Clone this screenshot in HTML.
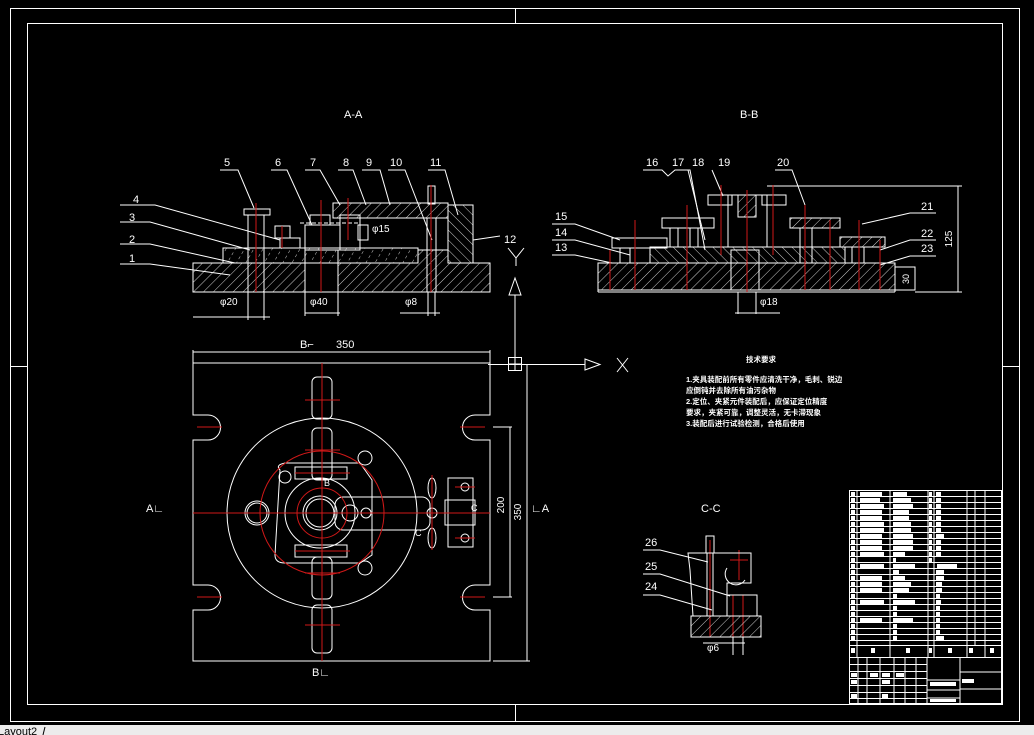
<!DOCTYPE html>
<html><head><meta charset="utf-8"><style>
html,body{margin:0;padding:0;background:#000;width:1034px;height:735px;overflow:hidden}
svg{display:block}
text{font-family:"Liberation Sans","Noto Sans CJK SC",sans-serif;fill:#fff}
</style></head><body>
<svg width="1034" height="735" viewBox="0 0 1034 735" xmlns="http://www.w3.org/2000/svg">
<defs>
<pattern id="h" width="7" height="7" patternUnits="userSpaceOnUse" patternTransform="rotate(45)"><line x1="0" y1="0" x2="0" y2="7" stroke="#fff" stroke-width="0.8"/></pattern>
<pattern id="h2" width="7" height="7" patternUnits="userSpaceOnUse" patternTransform="rotate(-45)"><line x1="0" y1="0" x2="0" y2="7" stroke="#fff" stroke-width="0.8"/></pattern>
<pattern id="d" width="8" height="6" patternUnits="userSpaceOnUse" patternTransform="rotate(30)"><line x1="0" y1="0" x2="0" y2="3" stroke="#fff" stroke-width="0.8"/></pattern>
</defs>
<rect width="1034" height="735" fill="#000"/>
<g fill="none" stroke="#fff" stroke-width="1">
<rect x="10.5" y="8.5" width="1009" height="713"/>
<rect x="27.5" y="23.5" width="975" height="681"/>
<line x1="515.5" y1="8" x2="515.5" y2="23"/><line x1="515.5" y1="704" x2="515.5" y2="721"/>
<line x1="10" y1="366.5" x2="27" y2="366.5"/><line x1="1002" y1="366.5" x2="1019" y2="366.5"/>

<path d="M193 263 H305 V292 H193 Z" fill="url(#h)"/>
<path d="M338 263 H418 V250 H448 V263 H490 V292 H338 Z" fill="url(#h)"/>
<rect x="305" y="250" width="33" height="42"/>
<rect x="223" y="248" width="195" height="15" fill="url(#d)"/>
<rect x="333" y="203" width="115" height="15" fill="url(#h)"/>
<rect x="448" y="205" width="25" height="58" fill="url(#h2)"/>
<rect x="244" y="209" width="26" height="6"/><rect x="248" y="215" width="16" height="77"/>
<rect x="427" y="218" width="9" height="74"/><rect x="428" y="186" width="7" height="18"/>
<rect x="275" y="226" width="15" height="12"/><rect x="280" y="238" width="20" height="10"/>
<rect x="305" y="225" width="35" height="25"/><rect x="310" y="215" width="20" height="10"/>
<rect x="340" y="215" width="20" height="35"/><rect x="358" y="225" width="10" height="15"/>
<line x1="300" y1="223" x2="360" y2="223" stroke-dasharray="4,2"/>
<line x1="193" y1="317" x2="270" y2="317"/><line x1="305" y1="313" x2="340" y2="313"/><line x1="400" y1="313" x2="440" y2="313"/>
<line x1="248" y1="292" x2="248" y2="320"/><line x1="264" y1="292" x2="264" y2="320"/>
<line x1="305" y1="292" x2="305" y2="316"/><line x1="338" y1="292" x2="338" y2="316"/>
<line x1="428" y1="292" x2="428" y2="316"/><line x1="435" y1="292" x2="435" y2="316"/>
<polyline points="220,170 238,170 254,208"/><polyline points="271,170 287,170 312,225"/>
<polyline points="305,170 320,170 340,205"/><polyline points="338,170 353,170 366,205"/>
<polyline points="362,170 380,170 390,205"/><polyline points="388,170 405,170 432,240"/>
<polyline points="428,170 445,170 458,215"/><polyline points="473,240 500,236"/>
<polyline points="120,205 155,205 280,240"/><polyline points="120,222 150,222 250,250"/>
<polyline points="120,244 150,244 235,263"/><polyline points="120,264 150,264 230,275"/>

<rect x="598" y="263" width="297" height="27" fill="url(#h)"/>
<line x1="598" y1="292" x2="895" y2="292"/><line x1="598" y1="290" x2="598" y2="292"/><line x1="895" y1="290" x2="895" y2="292"/>
<rect x="650" y="247" width="195" height="16" fill="url(#h2)"/>
<rect x="731" y="250" width="28" height="40"/>
<rect x="728" y="195" width="39" height="52"/><rect x="738" y="195" width="18" height="22" fill="url(#h)"/>
<rect x="708" y="195" width="24" height="10"/><rect x="762" y="195" width="24" height="10"/>
<rect x="612" y="238" width="55" height="10"/><rect x="662" y="218" width="52" height="10"/>
<rect x="790" y="218" width="50" height="10" fill="url(#h)"/><rect x="840" y="237" width="45" height="10" fill="url(#h)"/>
<rect x="620" y="248" width="10" height="15"/><rect x="670" y="228" width="8" height="19"/><rect x="690" y="228" width="8" height="19"/>
<rect x="800" y="228" width="12" height="35"/><rect x="852" y="247" width="12" height="16"/>
<rect x="895" y="267" width="20" height="23"/>
<line x1="767" y1="186" x2="962" y2="186"/><line x1="915" y1="292" x2="962" y2="292"/>
<line x1="958" y1="186" x2="958" y2="292"/>
<line x1="738" y1="292" x2="738" y2="314"/><line x1="756" y1="292" x2="756" y2="314"/><line x1="735" y1="313" x2="780" y2="313"/>
<polyline points="643,170 662,170 668,176 675,170 690,170 705,250"/>
<polyline points="688,170 705,240"/><polyline points="712,170 723,196"/>
<polyline points="775,170 792,170 805,205"/>
<polyline points="936,213 910,213 862,224"/><polyline points="936,240 910,240 880,250"/><polyline points="936,256 910,256 880,265"/>
<polyline points="552,224 575,224 620,240"/><polyline points="552,240 575,240 630,255"/><polyline points="552,255 575,255 612,263"/>

<line x1="515" y1="295" x2="515" y2="370"/>
<path d="M509 295 L515 278 L521 295 Z"/>
<rect x="508.5" y="357.5" width="13" height="13"/><line x1="515" y1="357" x2="515" y2="371"/><line x1="508" y1="364" x2="522" y2="364"/>
<line x1="488" y1="364.5" x2="585" y2="364.5"/>
<path d="M585 359 L600 364.5 L585 370 Z"/>
<path d="M508 248 L516 258 L524 248 M516 258 V266"/>
<path d="M617 358 L628 372 M628 358 L617 372"/>

<path d="M193 363 H490 V415 H475 A12 12 0 0 0 475 440 H490 V585 H475 A12 12 0 0 0 475 610 H490 V661 H193 V610 H208 A12 12 0 0 0 208 585 H193 V440 H208 A12 12 0 0 0 208 415 H193 Z"/>
<line x1="193" y1="352" x2="490" y2="352"/><line x1="193" y1="350" x2="193" y2="363"/><line x1="490" y1="350" x2="490" y2="363"/>
<line x1="493" y1="427" x2="512" y2="427"/><line x1="493" y1="597" x2="512" y2="597"/><line x1="510" y1="427" x2="510" y2="597"/>
<line x1="493" y1="661" x2="530" y2="661"/><line x1="527" y1="365" x2="527" y2="661"/>
<circle cx="322" cy="513" r="95"/>
<rect x="312" y="377" width="20" height="42" rx="5"/><rect x="312" y="428" width="20" height="52" rx="5"/>
<rect x="312" y="557" width="20" height="42" rx="5"/><rect x="312" y="605" width="20" height="48" rx="5"/>
<path d="M280 470 Q275 465 285 463 H360 L372 480 V555 L360 563 H285 Q275 563 275 555 Z"/>
<rect x="295" y="467" width="52" height="12"/><rect x="295" y="545" width="52" height="12"/>
<circle cx="320" cy="513" r="14"/><circle cx="320" cy="513" r="17"/>
<circle cx="320" cy="513" r="35"/>
<rect x="335" y="497" width="95" height="33" rx="8"/>
<circle cx="350" cy="513" r="8"/><circle cx="366" cy="513" r="5"/>
<circle cx="257" cy="513" r="12"/><circle cx="257" cy="513" r="10"/>
<circle cx="285" cy="477" r="6"/><circle cx="365" cy="458" r="7"/><circle cx="365" cy="568" r="7"/>
<rect x="448" y="478" width="25" height="69"/><rect x="445" y="500" width="30" height="25"/>
<ellipse cx="432" cy="488" rx="4" ry="10"/><ellipse cx="432" cy="538" rx="4" ry="10"/><circle cx="432" cy="513" r="5"/>
<circle cx="465" cy="487" r="4"/><circle cx="465" cy="538" r="4"/>
</g>
<g fill="none" stroke="#d01818" stroke-width="1">
<line x1="256" y1="203" x2="256" y2="292"/><line x1="321" y1="200" x2="321" y2="292"/><line x1="431" y1="185" x2="431" y2="292"/>
<line x1="348" y1="198" x2="348" y2="240"/><line x1="282" y1="226" x2="282" y2="248"/>
<line x1="747" y1="190" x2="747" y2="292"/><line x1="721" y1="185" x2="721" y2="255"/><line x1="773" y1="185" x2="773" y2="255"/>
<line x1="635" y1="220" x2="635" y2="290"/><line x1="610" y1="250" x2="610" y2="290"/>
<line x1="687" y1="205" x2="687" y2="290"/><line x1="805" y1="205" x2="805" y2="290"/><line x1="830" y1="220" x2="830" y2="290"/>
<line x1="859" y1="220" x2="859" y2="290"/><line x1="880" y1="240" x2="880" y2="290"/>
<line x1="322" y1="363" x2="322" y2="661"/><line x1="193" y1="513" x2="490" y2="513"/>
<circle cx="322" cy="513" r="62"/><circle cx="322" cy="513" r="25"/>
<line x1="197" y1="427" x2="222" y2="427"/><line x1="197" y1="597" x2="222" y2="597"/>
<line x1="460" y1="427" x2="485" y2="427"/><line x1="460" y1="597" x2="485" y2="597"/>
<line x1="305" y1="400" x2="340" y2="400"/><line x1="305" y1="450" x2="340" y2="450"/><line x1="305" y1="573" x2="340" y2="573"/><line x1="305" y1="625" x2="340" y2="625"/>
<line x1="295" y1="473" x2="350" y2="473"/><line x1="295" y1="551" x2="350" y2="551"/>
<line x1="432" y1="475" x2="432" y2="550"/><line x1="455" y1="487" x2="475" y2="487"/><line x1="455" y1="538" x2="475" y2="538"/>
<line x1="710" y1="540" x2="710" y2="637"/><line x1="739" y1="550" x2="739" y2="580"/><line x1="730" y1="560" x2="748" y2="560"/>
<line x1="733" y1="595" x2="733" y2="637"/><line x1="743" y1="595" x2="743" y2="637"/>
</g>
<g fill="none" stroke="#fff" stroke-width="1">
<rect x="691" y="616" width="70" height="21" fill="url(#h)"/>
<path d="M688 553 H751 V583 H727 V616 H693 L690 570 Z"/>
<path d="M727 568 A10 10 0 0 0 745 580"/>
<rect x="727" y="595" width="30" height="21"/>
<rect x="706" y="536" width="8" height="17"/><rect x="707" y="553" width="6" height="63"/>
<line x1="703" y1="643" x2="745" y2="643"/><line x1="733" y1="637" x2="733" y2="655"/><line x1="743" y1="637" x2="743" y2="655"/>
<polyline points="643,550 660,550 708,562"/><polyline points="643,574 660,574 730,596"/><polyline points="643,595 660,595 712,610"/>
</g>
<g fill="none" stroke="#fff" stroke-width="1">
<rect x="849.5" y="490.5" width="152" height="213"/>
<line x1="857" y1="490" x2="857" y2="657"/><line x1="890" y1="490" x2="890" y2="657"/><line x1="928" y1="490" x2="928" y2="657"/>
<line x1="934" y1="490" x2="934" y2="657"/><line x1="967" y1="490" x2="967" y2="657"/><line x1="975" y1="490" x2="975" y2="645"/><line x1="985" y1="490" x2="985" y2="657"/>
<line x1="849" y1="645.5" x2="1002" y2="645.5"/><line x1="849" y1="657.5" x2="1002" y2="657.5"/>
<line x1="927" y1="657" x2="927" y2="704"/><line x1="960" y1="657" x2="960" y2="704"/>
<line x1="960" y1="672" x2="1002" y2="672"/><line x1="960" y1="689" x2="1002" y2="689"/>
<line x1="927" y1="680" x2="960" y2="680"/><line x1="927" y1="690" x2="960" y2="690"/><line x1="927" y1="698" x2="960" y2="698"/>
</g>
<g stroke="#fff" stroke-width="1">
<path d="M849 496.5H1002M849 502.5H1002M849 508.5H1002M849 514.5H1002M849 520.5H1002M849 526.5H1002M849 532.5H1002M849 538.5H1002M849 544.5H1002M849 550.5H1002M849 556.5H1002M849 562.5H1002M849 568.5H1002M849 574.5H1002M849 580.5H1002M849 586.5H1002M849 592.5H1002M849 598.5H1002M849 604.5H1002M849 610.5H1002M849 616.5H1002M849 622.5H1002M849 628.5H1002M849 634.5H1002M849 640.5H1002"/>
<path d="M849 664.5H927M849 671.5H927M849 678.5H927M849 685.5H927M849 692.5H927M849 698.5H927M858 657V704M867 657V704M880 657V704M894 657V704M905 657V704M916 657V704"/>
</g>
<g fill="#fff">
<rect x="851" y="492" width="4" height="4"/><rect x="860" y="492" width="22" height="4"/><rect x="893" y="492" width="14" height="4"/><rect x="929" y="492" width="3" height="4"/><rect x="936" y="492" width="5" height="4"/>
<rect x="851" y="498" width="4" height="4"/><rect x="860" y="498" width="20" height="4"/><rect x="893" y="498" width="18" height="4"/><rect x="929" y="498" width="3" height="4"/><rect x="936" y="498" width="5" height="4"/>
<rect x="851" y="504" width="4" height="4"/><rect x="860" y="504" width="24" height="4"/><rect x="893" y="504" width="20" height="4"/><rect x="929" y="504" width="3" height="4"/><rect x="936" y="504" width="5" height="4"/>
<rect x="851" y="510" width="4" height="4"/><rect x="860" y="510" width="22" height="4"/><rect x="893" y="510" width="16" height="4"/><rect x="929" y="510" width="3" height="4"/><rect x="936" y="510" width="5" height="4"/>
<rect x="851" y="516" width="4" height="4"/><rect x="860" y="516" width="22" height="4"/><rect x="893" y="516" width="16" height="4"/><rect x="929" y="516" width="3" height="4"/><rect x="936" y="516" width="5" height="4"/>
<rect x="851" y="522" width="4" height="4"/><rect x="860" y="522" width="24" height="4"/><rect x="893" y="522" width="18" height="4"/><rect x="929" y="522" width="3" height="4"/><rect x="936" y="522" width="5" height="4"/>
<rect x="851" y="528" width="4" height="4"/><rect x="860" y="528" width="24" height="4"/><rect x="893" y="528" width="18" height="4"/><rect x="929" y="528" width="3" height="4"/><rect x="936" y="528" width="5" height="4"/>
<rect x="851" y="534" width="4" height="4"/><rect x="860" y="534" width="22" height="4"/><rect x="893" y="534" width="20" height="4"/><rect x="929" y="534" width="3" height="4"/><rect x="936" y="534" width="8" height="4"/>
<rect x="851" y="540" width="4" height="4"/><rect x="860" y="540" width="22" height="4"/><rect x="893" y="540" width="20" height="4"/><rect x="929" y="540" width="3" height="4"/><rect x="936" y="540" width="5" height="4"/>
<rect x="851" y="546" width="4" height="4"/><rect x="860" y="546" width="22" height="4"/><rect x="893" y="546" width="20" height="4"/><rect x="929" y="546" width="3" height="4"/><rect x="936" y="546" width="5" height="4"/>
<rect x="851" y="552" width="4" height="4"/><rect x="860" y="552" width="24" height="4"/><rect x="893" y="552" width="12" height="4"/><rect x="929" y="552" width="3" height="4"/><rect x="936" y="552" width="5" height="4"/>
<rect x="851" y="558" width="4" height="4"/><rect x="893" y="558" width="3" height="4"/><rect x="929" y="558" width="3" height="4"/>
<rect x="851" y="564" width="4" height="4"/><rect x="860" y="564" width="24" height="4"/><rect x="893" y="564" width="22" height="4"/><rect x="937" y="564" width="20" height="4"/>
<rect x="851" y="570" width="4" height="4"/><rect x="893" y="570" width="6" height="4"/><rect x="936" y="570" width="8" height="4"/>
<rect x="851" y="576" width="4" height="4"/><rect x="860" y="576" width="22" height="4"/><rect x="893" y="576" width="12" height="4"/><rect x="936" y="576" width="8" height="4"/>
<rect x="851" y="582" width="4" height="4"/><rect x="860" y="582" width="22" height="4"/><rect x="893" y="582" width="18" height="4"/><rect x="936" y="582" width="6" height="4"/>
<rect x="851" y="588" width="4" height="4"/><rect x="860" y="588" width="22" height="4"/><rect x="893" y="588" width="16" height="4"/><rect x="936" y="588" width="6" height="4"/>
<rect x="851" y="594" width="4" height="4"/><rect x="893" y="594" width="4" height="4"/><rect x="936" y="594" width="4" height="4"/>
<rect x="851" y="600" width="4" height="4"/><rect x="860" y="600" width="24" height="4"/><rect x="893" y="600" width="22" height="4"/><rect x="936" y="600" width="5" height="4"/>
<rect x="851" y="606" width="4" height="4"/><rect x="893" y="606" width="4" height="4"/><rect x="936" y="606" width="4" height="4"/>
<rect x="851" y="612" width="4" height="4"/><rect x="893" y="612" width="4" height="4"/><rect x="936" y="612" width="4" height="4"/>
<rect x="851" y="618" width="4" height="4"/><rect x="860" y="618" width="22" height="4"/><rect x="893" y="618" width="20" height="4"/><rect x="936" y="618" width="4" height="4"/>
<rect x="851" y="624" width="4" height="4"/><rect x="893" y="624" width="4" height="4"/><rect x="936" y="624" width="4" height="4"/>
<rect x="851" y="630" width="4" height="4"/><rect x="893" y="630" width="4" height="4"/><rect x="936" y="630" width="4" height="4"/>
<rect x="851" y="636" width="4" height="4"/><rect x="893" y="636" width="4" height="4"/><rect x="936" y="636" width="8" height="4"/>
<rect x="851" y="648" width="4" height="5"/><rect x="871" y="648" width="4" height="5"/><rect x="906" y="648" width="4" height="5"/><rect x="929" y="648" width="3" height="5"/><rect x="948" y="648" width="4" height="5"/><rect x="969" y="648" width="4" height="5"/><rect x="990" y="648" width="4" height="5"/>
<rect x="930" y="682" width="26" height="4"/><rect x="962" y="679" width="12" height="4"/><rect x="930" y="699" width="26" height="3"/>
<rect x="851" y="673" width="6" height="4"/><rect x="870" y="673" width="8" height="4"/><rect x="882" y="673" width="8" height="4"/><rect x="896" y="673" width="8" height="4"/>
<rect x="851" y="680" width="6" height="4"/><rect x="882" y="680" width="8" height="4"/><rect x="851" y="694" width="6" height="4"/><rect x="882" y="694" width="6" height="4"/>
</g>
<g font-size="11">
<text x="344" y="118">A-A</text><text x="740" y="118">B-B</text><text x="701" y="512">C-C</text>
<text x="224" y="166">5</text><text x="275" y="166">6</text><text x="310" y="166">7</text><text x="343" y="166">8</text><text x="366" y="166">9</text><text x="390" y="166">10</text><text x="430" y="166">11</text>
<text x="504" y="243">12</text>
<text x="133" y="203">4</text><text x="129" y="221">3</text><text x="129" y="243">2</text><text x="129" y="262">1</text>
<text x="646" y="166">16</text><text x="672" y="166">17</text><text x="692" y="166">18</text><text x="718" y="166">19</text><text x="777" y="166">20</text>
<text x="921" y="210">21</text><text x="921" y="237">22</text><text x="921" y="252">23</text>
<text x="555" y="220">15</text><text x="555" y="236">14</text><text x="555" y="251">13</text>
<text x="645" y="546">26</text><text x="645" y="570">25</text><text x="645" y="590">24</text>
<text x="300" y="348">B⌐</text><text x="336" y="348">350</text>
<text x="312" y="676">B∟</text><text x="146" y="512">A∟</text><text x="531" y="512">∟A</text>
<text x="471" y="511" font-size="9">C</text><text x="415" y="536" font-size="9">C</text><text x="324" y="486" font-size="9">B</text>
<text x="220" y="305" font-size="10">φ20</text><text x="310" y="305" font-size="10">φ40</text><text x="405" y="305" font-size="10">φ8</text>
<text x="372" y="232" font-size="10">φ15</text><text x="760" y="305" font-size="10">φ18</text><text x="707" y="651" font-size="10">φ6</text>
<text transform="translate(504,505) rotate(-90)" font-size="10" text-anchor="middle">200</text>
<text transform="translate(521,512) rotate(-90)" font-size="10" text-anchor="middle">350</text>
<text transform="translate(952,239) rotate(-90)" font-size="10" text-anchor="middle">125</text>
<text transform="translate(909,279) rotate(-90)" font-size="9" text-anchor="middle">30</text>
</g>
<g font-size="7.5" font-weight="bold">
<text x="746" y="362">技术要求</text>
<text x="686" y="382">1.夹具装配前所有零件应清洗干净，毛刺、锐边</text>
<text x="686" y="393">应倒钝并去除所有油污杂物</text>
<text x="686" y="404">2.定位、夹紧元件装配后，应保证定位精度</text>
<text x="686" y="415">要求，夹紧可靠，调整灵活，无卡滞现象</text>
<text x="686" y="426">3.装配后进行试验检测，合格后使用</text>
</g>
<rect x="0" y="725" width="1034" height="10" fill="#ececec"/>
<text x="-2" y="735" font-size="11" style="fill:#000">Layout2</text>
<line x1="45" y1="727" x2="43" y2="735" stroke="#000"/>
</svg>
</body></html>
